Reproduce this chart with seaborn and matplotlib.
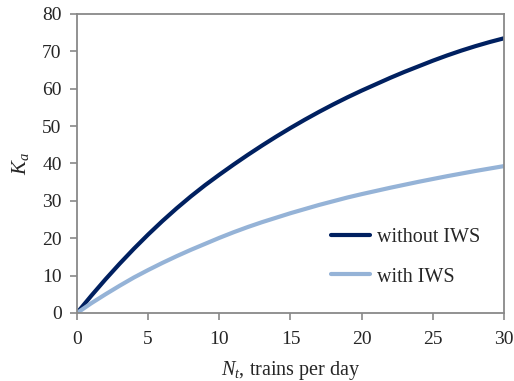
import pandas as pd
import numpy as np
import matplotlib
matplotlib.use('Agg')
import matplotlib.pyplot as plt
import seaborn as sns

# values
n_trains = list(range(0, 31))
ka_without = [0, 4.6, 9.0, 13.2, 17.2, 21.0, 24.6, 28.0, 31.2, 34.2, 37.0,
              39.7, 42.3, 44.8, 47.2, 49.5, 51.7, 53.8, 55.8, 57.7, 59.5,
              61.2, 62.9, 64.5, 66.0, 67.5, 68.9, 70.2, 71.4, 72.5, 73.5]
ka_with = [0, 2.6, 5.0, 7.3, 9.5, 11.5, 13.4, 15.2, 16.9, 18.5, 20.1,
           21.6, 23.0, 24.3, 25.5, 26.7, 27.8, 28.9, 29.9, 30.9, 31.8,
           32.65, 33.5, 34.3, 35.1, 35.85, 36.6, 37.3, 38.0, 38.65, 39.3]
series = ['without IWS', 'with IWS']
colors = ['#002060', '#95B3D7']

df = pd.DataFrame({
    'N': n_trains * 2,
    'Ka': ka_without + ka_with,
    'series': [series[0]] * len(n_trains) + [series[1]] * len(n_trains),
})

sns.set_style('white')
plt.rcParams['font.family'] = ['Liberation Serif', 'DejaVu Serif']
plt.rcParams['mathtext.fontset'] = 'custom'
plt.rcParams['mathtext.rm'] = 'Liberation Serif'
plt.rcParams['mathtext.it'] = 'Liberation Serif:italic'

fig = plt.figure(figsize=(5.14, 3.81), dpi=100)
ax = fig.add_axes([0.1498, 0.1785, 0.8307, 0.7848])

sns.lineplot(data=df, x='N', y='Ka', hue='series', hue_order=series,
             palette=colors, linewidth=3, ax=ax, legend=True)

ax.set_xlim(0, 30)
ax.set_ylim(0, 80)
ax.set_xticks(np.arange(0, 31, 5))
ax.set_yticks(np.arange(0, 81, 10))
ax.tick_params(axis='both', which='both', direction='out', length=5, width=1.2,
               color='#898989', labelsize=14, left=True, bottom=True)
ax.tick_params(axis='x', pad=8)
ax.tick_params(axis='y', pad=6)
for sp in ax.spines.values():
    sp.set_color('#898989')
    sp.set_linewidth(1.3)
    sp.set_visible(True)

ax.set_xlabel(r'$N_t$, trains per day', fontsize=14.5, labelpad=8)
ax.set_ylabel(r'$K_a$', fontsize=15, labelpad=8)

leg = ax.legend(loc='center', bbox_to_anchor=(0.77, 0.186), frameon=False,
                fontsize=14.5, handlelength=1.9, labelspacing=1.0, handletextpad=0.35)
for line in leg.get_lines():
    line.set_linewidth(3)

fig.savefig('out.png', dpi=100)
